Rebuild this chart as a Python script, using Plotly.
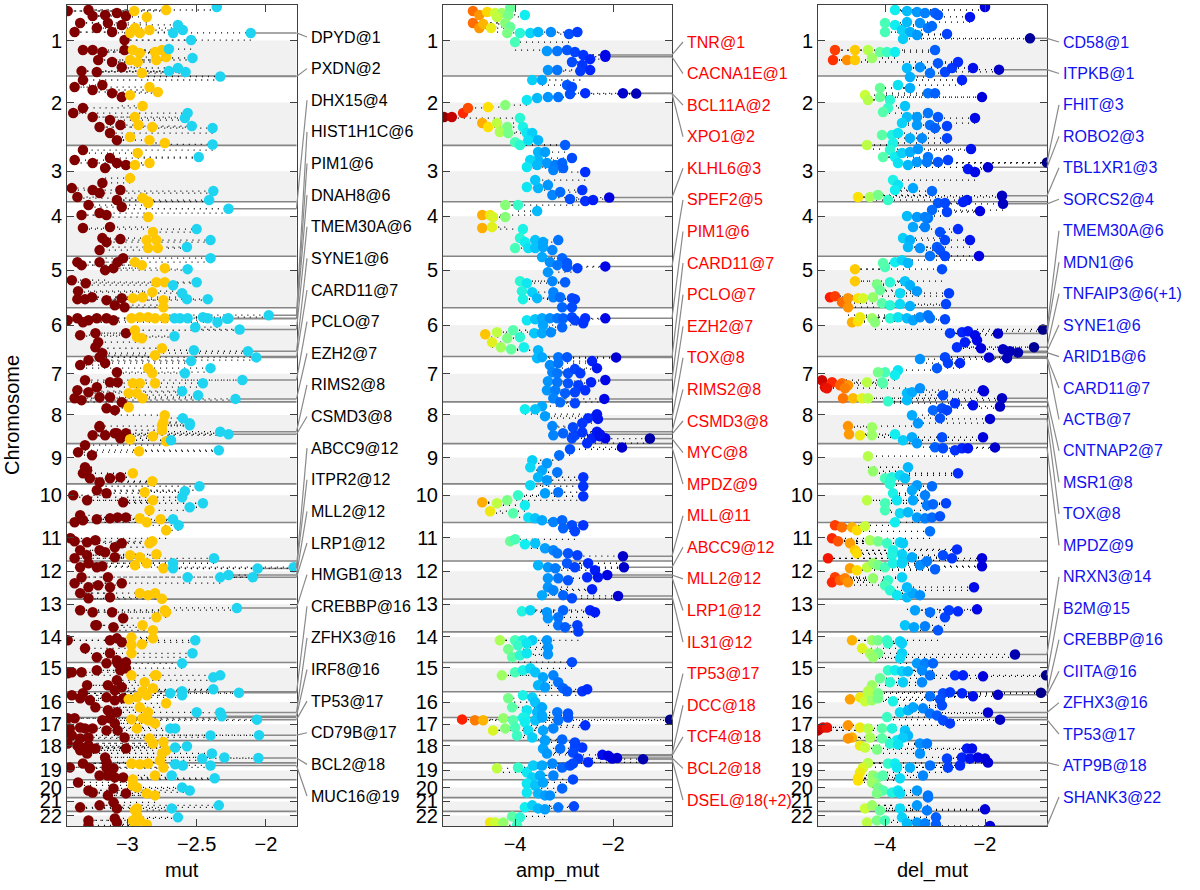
import numpy as np
import plotly.graph_objects as go

# ---------------- genome layout (hg19, Mb) ----------------
chrom_names = [str(i) for i in range(1, 23)]
chrom_len = [249.25, 243.2, 198.0, 191.15, 180.9, 171.1, 159.1, 146.4, 141.2, 135.5, 135.0,
             133.85, 115.2, 107.35, 102.5, 90.35, 81.2, 78.1, 59.1, 63.0, 48.1, 51.3]
centromere = [125.0, 93.3, 91.0, 50.4, 48.4, 61.0, 59.9, 45.6, 49.0, 40.2, 53.7, 35.8,
              17.9, 17.6, 19.0, 36.6, 24.0, 17.2, 26.5, 27.5, 13.2, 14.7]

# ---------------- panel 1: mut (position Mb within chromosome, score) ----------------
mut_pts = [
 [(21,-3.43),(63,-3.34),(95,-3.38),(17.5,-3.28),(38.6,-3.25),(35,-3.16),(63,-3.14),(95,-3.11),(28,-3.075),(70,-3.04),(38.6,-3.01),(123,-3.02),(81,-3.22),(21,-2.95),(42,-2.86),(17.5,-2.72),(98,-2.98),(98,-2.91),(88,-2.84),(81,-2.945),(7,-2.355),(70,-2.635),(88,-2.60),(98,-2.67),(123,-2.54),(158,-3.32),(158,-3.25),(165,-3.18),(193,-3.21),(200,-3.11),(232,-3.33),(235,-3.22),(218,-3.04),(158,-3.02),(158,-2.96),(168.5,-2.91),(193,-2.98),(200,-2.925),(165,-2.80),(158,-2.75),(182.6,-2.72),(193,-2.79),(239,-2.895),(154.5,-2.70),(186,-2.53),(232,-2.70),(221,-2.635),(235,-2.58)],
 [(38.6,-3.38),(14,-3.32),(49,-3.25),(31.6,-3.18),(60,-3.11),(74,-3.04),(130,-3.39),(112,-3.32),(144,-3.25),(154.5,-3.125),(200,-3.125),(225,-3.075),(179,-3.20),(172,-3.05),(67,-2.98),(38.6,-2.84),(56,-2.78),(105,-2.89),(144,-2.945),(172,-2.92),(179,-2.82),(214,-2.98),(225,-2.84),(235,-2.73),(130,-2.565),(147.5,-2.585),(175.5,-2.535),(182.6,-2.385),(240,-2.385)],
 [(51.6,-3.38),(16.5,-3.32),(62,-3.25),(44.6,-3.125),(79.7,-3.16),(62,-3.075),(69,-3.01),(150,-3.40),(181.5,-3.36),(157,-3.25),(132,-3.18),(157,-3.05),(192,-3.075),(167.5,-3.20),(69,-2.945),(62,-2.84),(115,-2.98),(185,-2.89),(197,-2.85),(27,-2.925),(41,-2.485),(160.5,-2.38),(192,-2.41)],
 [(11.6,-3.28),(46.7,-3.33),(39.7,-3.20),(46.7,-3.15),(18.6,-3.04),(92.3,-3.32),(88.8,-3.125),(127.5,-3.18),(141.5,-3.15),(131,-3.05),(169.6,-3.20),(4.6,-2.85),(53.7,-2.85),(106.4,-2.815),(134.5,-2.86),(134.5,-2.79),(162.6,-2.85),(162.6,-2.78),(95.9,-2.50),(134.5,-2.40),(159,-2.57)],
 [(20.7,-3.36),(31.3,-3.33),(20.7,-3.20),(48.8,-3.16),(41.8,-3.10),(20.7,-3.07),(6.7,-3.03),(84,-3.40),(94.5,-3.30),(122.5,-3.355),(150.6,-3.36),(150.6,-3.305),(143.6,-3.255),(154,-3.15),(171.7,-3.09),(178.7,-3.02),(147,-3.04),(20.7,-2.945),(31.3,-2.895),(41.8,-2.73),(91,-2.79),(91,-2.73),(126,-2.82),(143.6,-2.89),(147,-2.96),(154,-2.74),(178.7,-2.74),(6.7,-2.40),(45.3,-2.565),(91,-2.50),(101.5,-2.67),(129.6,-2.605),(150.6,-2.57),(150.6,-2.42)],
 [(43.5,-3.43),(36.5,-3.36),(50.6,-3.32),(43.5,-3.28),(36.5,-3.22),(36.5,-3.15),(43.5,-3.10),(96,-3.34),(89,-3.23),(120.8,-3.21),(138.3,-3.23),(159.4,-3.18),(89,-3.01),(36.5,-2.97),(33,-2.91),(33,-2.85),(36.5,-2.80),(36.5,-2.73),(78.7,-2.945),(103,-2.93),(106.7,-2.895),(141.9,-2.75),(166.4,-2.80),(36.5,-2.66),(36.5,-2.62),(36.5,-2.565),(33,-2.455),(36.5,-2.42),(50.6,-2.35),(68,-2.51),(99.7,-2.66),(149,-2.52)],
 [(30,-3.34),(12.6,-3.28),(2,-3.20),(23,-3.16),(54.8,-3.075),(82.9,-3.305),(107.4,-3.22),(118,-3.36),(125,-3.28),(142.5,-3.20),(89.9,-3.125),(89.9,-3.07),(142.5,-3.125),(146,-3.38),(153,-3.33),(40.7,-2.85),(58.3,-2.82),(93.4,-2.96),(93.4,-2.91),(93.4,-2.80),(128.4,-2.93),(128.4,-2.99),(146,-2.89),(16,-2.54),(40.7,-2.40),(58.3,-2.585),(93.4,-2.455),(121.5,-2.605),(135.5,-2.49)],
 [(22,-3.15),(29,-3.09),(1,-3.04),(88.8,-3.20),(110,-3.075),(110,-3.01),(117,-3.16),(117,-3.25),(110,-3.09),(127.5,-3.05),(85,-3.20),(18.6,-2.99),(46.7,-2.73),(71.3,-2.74),(99.4,-2.75),(81.8,-2.75),(131,-2.98),(120.4,-2.815),(138,-2.72),(57,-2.60),(74.8,-2.55),(81.8,-2.55),(134.5,-2.685)],
 [(5.6,-3.305),(30,-3.355),(40.7,-3.255),(83,-3.305),(104,-3.32),(121.5,-3.27),(135.5,-3.20),(121.5,-3.125),(118,-3.05),(93.4,-3.29),(26.7,-2.915),(104,-2.96),(132,-2.82),(23,-2.34)],
 [(40,-3.39),(57.6,-3.29),(22.5,-3.22),(33,-3.15),(64.6,-3.03),(110.4,-3.34),(134.8,-3.38),(127.8,-3.32),(124.4,-3.22),(121,-3.125),(117.6,-3.07),(117.6,-3.01),(29.5,-2.875),(57.6,-2.815),(92.7,-2.84),(121,-2.91),(134.8,-2.86),(124.4,-2.76),(8.4,-2.48),(26,-2.585),(47,-2.605),(68,-2.455),(82,-2.55),(124.4,-2.67)],
 [(55.5,-3.41),(66,-3.38),(69.5,-3.29),(62.5,-3.23),(97.6,-3.34),(115,-3.29),(125.7,-3.38),(97.6,-3.20),(104.6,-3.16),(87,-3.09),(73,-3.04),(122,-3.09),(27.4,-2.72),(66,-2.82),(73,-2.84),(115,-2.98),(122,-2.91),(111.7,-2.79),(10,-2.63),(125.7,-2.375)],
 [(22,-3.34),(8,-3.28),(22,-3.22),(18.6,-3.18),(57,-3.14),(85,-3.21),(92,-3.28),(78,-3.38),(57,-3.33),(78,-3.04),(92,-3.125),(113,-3.34),(131,-3.28),(127.5,-3.125),(15,-2.945),(8,-2.86),(25.6,-2.74),(113,-2.91),(120,-2.85),(113,-2.80),(133,-2.75),(8,-2.67),(25.6,-2.67),(57,-2.565),(57,-2.095)],
 [(39,-3.34),(46,-3.25),(46,-3.11),(67,-3.03),(92,-3.23),(99,-3.10),(92,-3.22),(39,-2.73),(46,-2.72),(64,-2.79),(92,-2.89),(109.5,-2.815)],
 [(29.5,-3.43),(57.6,-3.305),(29.5,-3.125),(22.5,-3.075),(36.5,-3.04),(89,-3.22),(75,-3.125),(99.7,-3.075),(106,-3.01),(19,-2.97),(47,-2.97),(43.5,-2.895),(22.5,-2.815),(75,-2.97),(29.5,-2.51),(75,-2.53)],
 [(38,-3.43),(34.4,-3.40),(34.4,-3.33),(27.4,-3.22),(3,-3.15),(3,-3.07),(27.4,-3.05),(80,-3.29),(62.5,-3.075),(80,-3.14),(97.5,-3.09),(87,-3.04),(20,-3.01),(45,-2.97),(45,-2.80),(45,-2.79),(69.5,-2.875),(90.4,-2.815),(101,-2.89),(3,-2.605),(52,-2.38),(45,-2.33),(94,-2.38),(101,-2.605)],
 [(12.6,-3.40),(5.6,-3.32),(30,-3.27),(23,-3.34),(54.8,-3.23),(19.7,-3.15),(30,-3.09),(23,-3.03),(65,-3.14),(72.3,-3.075),(26.7,-2.99),(19.7,-2.93),(12.6,-2.86),(54.8,-2.91),(72.3,-2.85),(40.7,-2.72),(5.6,-2.69),(12.6,-2.605),(72.3,-2.50)],
 [(3,-3.43),(3,-3.38),(38.3,-3.415),(35,-3.34),(38.3,-3.305),(38.3,-3.25),(10,-3.18),(3,-3.125),(20.7,-3.09),(45.3,-3.15),(45.3,-3.07),(70,-3.02),(62.9,-3.40),(73.4,-3.34),(70,-3.28),(6.7,-2.97),(3,-2.89),(10,-2.85),(20.7,-2.80),(38.3,-2.93),(73.4,-2.84),(38.3,-2.69),(38.3,-2.655),(62.9,-2.40)],
 [(10,-3.43),(17,-3.36),(24,-3.33),(17,-3.28),(34,-3.34),(45,-3.29),(27.4,-3.23),(27.4,-3.01),(59,-3.16),(76,-3.15),(10,-2.815),(45,-2.75),(34,-2.72),(69.5,-2.765),(5,-2.74),(24,-2.655),(20,-2.57),(62.5,-2.46),(45,-2.39),(59,-2.30)],
 [(16,-3.415),(2,-3.32),(19,-3.27),(16,-3.15),(19,-3.10),(44,-3.20),(44,-3.14),(51,-3.09),(51,-3.03),(2,-2.97),(5,-2.91),(2,-2.85),(16,-2.74),(44,-2.80),(58,-2.96),(5,-2.655),(9,-2.60),(54,-2.37),(44,-2.68)],
 [(9.5,-3.355),(37.6,-3.28),(44.6,-3.25),(30.5,-3.10),(55,-3.14),(48,-3.01),(27,-2.93),(48,-2.86),(55,-2.80),(20,-2.96),(27,-2.605),(37.6,-2.55)],
 [(34,-3.34),(27,-3.20),(37.6,-3.075),(16.5,-3.10),(37.6,-2.93),(44,-2.945),(37.6,-2.68),(27,-2.34)],
 [(31.6,-3.28),(49,-3.28),(24.6,-3.09),(38.6,-3.075),(14,-2.93),(31.6,-2.96),(31.6,-2.91),(45.6,-2.86),(45.6,-2.945),(21,-2.635)],
]
mut_labels = [("DPYD@1",1,98,-2.11),("PXDN@2",2,1.6,-2.33),("DHX15@4",4,24.5,-2.27),("HIST1H1C@6",6,26,-1.98),
 ("PIM1@6",6,37.1,-2.27),("DNAH8@6",6,38.7,-2.28),("TMEM30A@6",6,76,-2.19),("SYNE1@6",6,152.5,-2.13),
 ("CARD11@7",7,2.9,-2.07),("PCLO@7",7,82.5,-2.17),("EZH2@7",7,148.5,-2.22),("RIMS2@8",8,104.5,-2.33),
 ("CSMD3@8",8,113.5,-2.27),("ABCC9@12",12,22,-1.80),("ITPR2@12",12,26.5,-2.06),("MLL2@12",12,49.4,-2.27),
 ("LRP1@12",12,57.5,-2.33),("HMGB1@13",13,31,-2.21),("CREBBP@16",16,3.8,-2.195),("ZFHX3@16",16,73,-2.33),
 ("IRF8@16",16,85.9,-2.32),("TP53@17",17,7.6,-2.065),("CD79B@17",17,62,-2.05),("BCL2@18",18,61,-2.055),
 ("MUC16@19",19,9,-2.40)]

# ---------------- panel 2: amp_mut ----------------
amp_pts = [
 [(21,-4.86),(35,-4.73),(24.6,-4.57),(28,-4.41),(28,-4.27),(10.5,-4.10),(35,-4.14),(63,-4.86),(81,-4.73),(66.7,-4.65),(81,-4.49),(42,-4.37),(63,-4.20),(77,-4.10),(35,-3.80),(98,-4.16),(98,-3.90),(98,-3.69),(95,-3.53),(95,-3.27),(102,-2.90),(95,-2.73),(130,-4.0),(161.5,-3.35),(161.5,-3.14),(158,-2.94),(165,-2.78),(175.5,-2.61),(190,-2.47),(200,-2.84),(210.7,-2.63),(228,-2.47),(232,-2.67),(228,-3.33),(228,-3.14)],
 [(14,-3.65),(14,-3.45),(84,-3.76),(77,-3.55),(74,-3.33),(74,-3.12),(63,-2.88),(60,-2.57),(31.6,-2.94),(38.6,-2.84),(144,-5.45),(144,-5.29),(130,-5.06),(112,-4.96),(109,-4.55),(102,-4.20),(165,-4.67),(179,-4.55),(165,-4.37),(179,-4.16),(196.6,-4.31),(200,-4.14),(147.5,-3.90),(179,-3.84),(200,-3.76),(232,-4.0),(242,-3.90),(200,-3.65),(225,-3.73),(225,-3.53),(242,-2.98)],
 [(23.5,-3.53),(23.5,-3.39),(51.6,-3.53),(51.6,-3.69),(76,-3.76),(69,-3.55),(62,-3.35),(69,-3.18),(62,-3.04),(44.6,-2.84),(86.7,-3.22),(79.7,-3.02),(93.8,-2.57),(146.4,-3.76),(150,-3.53),(139.4,-3.33),(174.5,-3.24),(164,-3.08),(188.5,-2.88),(157,-2.63),(195.6,-2.57),(192,-2.41),(121.8,-3.59)],
 [(46.7,-4.67),(46.7,-4.51),(53.7,-4.45),(53.7,-4.20),(11.6,-4.20),(11.6,-3.94),(32.7,-3.55),(92.3,-4.67),(88.8,-4.47),(95.9,-3.84),(127.5,-3.90),(141.5,-3.80),(134.5,-3.59),(141.5,-3.43),(134.5,-3.12),(162.6,-4.0),(162.6,-3.73),(162.6,-3.59),(159,-3.43),(169.6,-3.24)],
 [(3,-3.45),(20.7,-3.29),(6.7,-3.04),(24,-2.94),(55.8,-3.33),(31.3,-3.14),(38,-2.94),(41.8,-2.73),(87.4,-3.90),(94.5,-3.76),(87.4,-3.24),(91,-2.98),(122.5,-3.86),(126,-3.65),(150.6,-3.84),(147,-3.55),(126,-3.22),(143.6,-3.22),(143.6,-3.08),(147,-2.84),(150.6,-2.78),(178.7,-3.04),(178.7,-2.84)],
 [(43.5,-3.76),(40,-3.59),(36.5,-3.45),(36.5,-3.29),(36.5,-3.14),(36.5,-3.02),(33,-2.84),(43.5,-2.78),(36.5,-2.57),(54,-2.61),(61,-3.43),(68,-3.04),(92.7,-4.61),(85.7,-4.37),(106.7,-4.16),(78.7,-4.04),(120.8,-4.47),(138.3,-4.29),(145.4,-4.08),(138.3,-3.82),(103,-3.90),(89,-3.61),(89,-3.45),(85.7,-3.27),(149,-3.53)],
 [(5.6,-3.55),(2,-3.45),(2,-3.12),(2,-2.94),(16,-2.43),(30,-3.29),(23,-3.12),(54.8,-3.24),(58.3,-3.14),(58.3,-2.92),(44,-2.78),(58.3,-2.67),(40.7,-2.33),(86.4,-3.33),(90,-3.14),(93.4,-2.92),(100.4,-2.71),(90,-2.45),(118,-3.35),(118,-3.18),(128.4,-2.98),(125,-2.78),(118,-2.57),(146,-3.22)],
 [(1,-3.08),(4.6,-2.78),(15,-3.45),(25.6,-3.59),(25.6,-3.80),(50,-3.39),(57,-2.51),(43,-2.33),(74.8,-2.63),(85,-3.24),(88.8,-2.82),(117,-3.22),(110,-3.02),(127.5,-2.84),(117,-2.78),(106.4,-2.63),(127.5,-2.43),(120.4,-2.27),(127.5,-2.16),(145,-2.53)],
 [(19.7,-2.88),(40.7,-3.10),(58.3,-3.65),(83,-3.69),(93.4,-3.45),(69,-3.35),(118,-3.53),(128.5,-3.35),(100.4,-3.14),(118,-2.61)],
 [(8.4,-2.61),(43.5,-2.61),(29.5,-3.12),(33,-3.39),(5,-3.69),(40,-3.94),(57.6,-4.16),(68,-4.37),(64.6,-4.67),(96,-4.51),(103,-4.04),(75,-3.80),(117.6,-3.73),(121,-3.59),(127.8,-3.45),(134,-3.22),(127.8,-3.04)],
 [(10,-2.84),(10,-2.61),(20.4,-3.02),(31,-2.78),(66,-4.10),(59,-4.0),(76.5,-3.80),(73,-3.59),(90.6,-3.39),(97.6,-3.22),(108,-3.14),(108,-2.92),(115,-2.73)],
 [(15,-3.53),(22,-3.33),(25.6,-3.18),(8,-2.94),(22,-2.78),(8,-2.51),(32.7,-2.37),(60.7,-3.33),(60.7,-3.12),(67.8,-2.92),(57,-2.53),(92,-3.33),(103,-3.22),(120,-3.45),(120,-3.02),(131,-2.84),(99.4,-2.43)],
 [(43,-3.86),(39,-3.69),(46,-3.35),(39,-3.02),(39,-2.47),(46,-2.37),(67,-3.33),(64,-3.12),(92,-3.12),(99,-2.98),(92,-2.73),(114,-2.71)],
 [(29.5,-4.31),(29.5,-4.0),(29.5,-3.84),(29.5,-3.65),(29.5,-3.35),(61,-4.14),(47,-3.94),(40,-3.76),(54,-3.33),(89,-4.06),(82,-3.90),(75,-3.76),(78.6,-3.33),(106,-2.84)],
 [(45,-4.27),(34.4,-4.0),(27.4,-3.84),(20.4,-3.69),(34.4,-3.59),(52,-3.43),(45,-3.22),(80,-3.53),(87,-3.39),(69.5,-3.12),(90.4,-3.02),(101,-2.94),(101,-2.63),(94,-2.53)],
 [(12.6,-3.84),(19.7,-3.65),(23,-4.14),(37,-3.59),(54.8,-4.06),(65,-3.76),(72.3,-3.55),(54.8,-3.45),(83,-3.45),(72.3,-3.14),(76,-2.92),(89,-3.80)],
 [(6.7,-5.08),(10,-4.82),(10,-4.65),(3,-4.24),(10,-4.04),(0.5,-3.84),(17,-3.80),(10,-3.59),(0.5,-3.45),(10,-3.12),(0.5,-2.92),(45.3,-4.45),(38.3,-4.20),(35,-4.0),(63,-3.96),(45.3,-3.73),(70,-3.65),(45.3,-3.43),(38.3,-3.22),(27.7,-2.57),(80,-3.39),(77,-3.04)],
 [(0.5,-3.39),(6.3,-2.78),(24,-2.63),(24,-2.78),(27.4,-3.08),(27.4,-3.43),(45,-3.35),(41.4,-2.82),(62.5,-2.71),(76,-2.51),(62.5,-2.02)],
 [(19,-4.37),(16,-3.94),(33,-3.76),(9,-3.63),(51,-3.65),(9,-3.45),(2,-3.24),(16,-3.04),(9,-2.88),(2,-2.82),(44,-3.22),(58,-2.82),(44,-3.49)],
 [(13,-3.76),(20,-3.59),(9.5,-3.43),(30.5,-3.04),(44.6,-3.76),(48,-3.53),(55,-3.39),(55,-3.29)],
 [(34,-3.80),(27,-3.65),(37.6,-3.53),(41,-3.39),(34,-3.12),(30.5,-2.80)],
 [(38.6,-4.51),(38.6,-4.41),(38.6,-4.24),(17.6,-4.06),(21,-3.90),(49,-3.96)],
]
amp_labels = [("TNR@1",1,175.3,-2.16),("CACNA1E@1",1,181.5,-2.16),("BCL11A@2",2,60.7,-1.80),("XPO1@2",2,61.7,-1.53),
 ("KLHL6@3",3,183.2,-2.08),("SPEF2@5",5,35.6,-2.16),("PIM1@6",6,37.1,-2.16),("CARD11@7",7,2.9,-1.94),
 ("PCLO@7",7,82.5,-2.16),("EZH2@7",7,148.5,-2.18),("TOX@8",8,59.7,-2.31),("RIMS2@8",8,104.5,-2.33),
 ("CSMD3@8",8,113.5,-2.27),("MYC@8",8,128.7,-1.25),("MPDZ@9",9,13.2,-1.82),("MLL@11",11,118.3,-1.80),
 ("ABCC9@12",12,22,-1.78),("MLL2@12",12,49.4,-2.12),("LRP1@12",12,57.5,-2.31),("IL31@12",12,122.7,-1.90),
 ("TP53@17",17,7.6,-0.84),("DCC@18",18,50,-2.22),("TCF4@18",18,53,-2.10),("BCL2@18",18,61,-1.92),
 ("DSEL@18(+2)",18,65,-1.39)]

# ---------------- panel 3: del_mut ----------------
del_pts = [
 [(17.5,-3.80),(21,-3.56),(24.6,-3.36),(28,-3.20),(28,-3.0),(35,-2.94),(7,-2.0),(42,-2.30),(63,-4.0),(95,-4.0),(70,-3.80),(88,-3.66),(60,-3.56),(95,-3.50),(105,-3.36),(119,-3.64),(63,-3.30),(81,-3.14),(74,-3.06),(102,-2.76),(158,-5.0),(193,-5.04),(193,-4.76),(158,-4.6),(193,-4.6),(158,-4.34),(186,-4.26),(165,-4.10),(165,-3.96),(165,-3.80),(158,-3.0),(221,-3.56),(218,-3.30),(239,-3.10),(204,-2.94),(235,-2.80),(221,-2.66),(200,-2.54),(221,-2.24)],
 [(3.5,-3.50),(14,-2.46),(31.6,-3.74),(42,-3.50),(60,-3.14),(60,-3.0),(74,-2.06),(66.7,-4.40),(84,-4.34),(42,-4.10),(74,-4.10),(84,-3.90),(112,-3.94),(126,-4.04),(105,-3.60),(144,-3.56),(144,-3.36),(130,-3.14),(144,-2.94),(147.5,-2.20),(165,-3.66),(172,-3.36),(172,-3.10),(182.6,-3.0),(175.5,-2.76),(207,-4.06),(207,-3.86),(200,-3.74),(218,-3.50),(218,-3.26),(218,-2.76),(242,-4.36),(235,-3.84)],
 [(16.5,-3.90),(41,-3.80),(41,-4.04),(27,-3.66),(23.5,-3.50),(13,-3.34),(41,-3.14),(51.6,-2.74),(13,-2.28),(58.6,-2.94),(62,-3.74),(69,-3.54),(58.6,-3.36),(58.6,-3.16),(83,-2.34),(93.8,-2.20),(121.8,-3.84),(139.4,-3.74),(157,-3.80),(150,-3.44),(160.5,-3.06),(181.5,-4.54),(181.5,-4.30),(174.5,-4.14),(192,-3.94),(192,-2.36)],
 [(1,-2.44),(4.6,-2.94),(4.6,-2.80),(32.7,-2.10),(29,-3.06),(36,-2.76),(57,-3.14),(50,-3.56),(53.7,-3.36),(53.7,-3.20),(95.9,-2.54),(106.4,-2.90),(88.8,-3.44),(88.8,-3.20),(127.5,-3.64),(134.5,-3.50),(159,-3.54),(162.6,-3.30),(159,-2.96),(169.6,-2.90),(134.5,-2.80),(134.5,-2.30),(190,-3.10),(190,-2.80),(190,-2.12)],
 [(20.7,-3.80),(13.7,-3.66),(24,-3.54),(38,-4.0),(24,-4.04),(45.3,-4.60),(45.3,-2.86),(87.4,-4.60),(98,-4.16),(91,-3.90),(87.4,-3.60),(101.5,-3.50),(119,-4.10),(129.6,-3.70),(122.5,-3.36),(129.6,-2.72),(143.6,-5.10),(140,-5.0),(161,-4.86),(147,-4.74),(147,-4.54),(147,-4.44),(143.6,-4.24),(164.6,-4.06),(171.7,-3.90),(168,-3.70),(175,-3.50),(168,-2.78),(178.7,-4.74)],
 [(50.6,-4.66),(47,-4.54),(33,-4.50),(36.5,-4.26),(50.6,-4.20),(36.5,-3.90),(33,-3.74),(36.5,-3.56),(43.5,-3.44),(33,-3.30),(26,-3.14),(36.5,-3.10),(40,-2.80),(89,-2.70),(85.7,-2.46),(82,-2.34),(96,-2.20),(120.8,-2.40),(113.8,-2.16),(138.3,-2.56),(141.9,-2.08),(145.4,-1.64)],
 [(9,-3.30),(2,-2.80),(40.7,-2.96),(23,-2.74),(23,-2.50),(47.8,-3.74),(65,-3.80),(54.8,-4.0),(54.8,-4.14),(83,-5.26),(107.4,-5.20),(90,-5.06),(93.4,-4.86),(100.4,-4.74),(90,-4.36),(90,-4.06),(111,-5.16),(100.4,-4.90),(111,-4.80),(146,-4.84),(146,-4.64),(146,-4.46),(146,-4.34),(93.4,-4.04),(157,-3.94),(128.4,-3.56),(125,-3.46),(111,-3.30),(153,-3.56),(135.5,-2.84),(118,-2.04),(121.5,-2.02)],
 [(4.6,-2.60),(11.6,-2.24),(29,-3.04),(22,-2.86),(29,-2.76),(57,-2.90),(46.7,-3.46),(74.8,-3.34),(85,-4.74),(88.8,-4.26),(113.4,-4.72),(117,-4.50),(117,-4.26),(113.4,-3.80),(134.5,-3.64),(124,-3.46),(145,-3.36),(124,-2.86),(124,-2.04)],
 [(12.6,-3.0),(16,-2.84),(23,-2.60),(16,-2.46),(16,-2.34),(44,-4.34),(97,-4.24),(83,-3.54),(104,-2.54),(121.5,-4.0),(118,-3.86),(111,-3.70),(121.5,-3.60),(131,-3.90)],
 [(1,-3.90),(5,-3.36),(8.4,-3.06),(33,-3.84),(22.5,-3.46),(40,-3.20),(57.6,-4.36),(68,-4.0),(57.6,-3.76),(57.6,-3.44),(75,-3.16),(71.6,-3.04),(68,-2.78),(92.7,-4.0),(103,-3.70),(99.7,-3.54),(117.6,-3.36),(121,-3.20),(117.6,-3.06),(113.8,-2.90),(134.8,-3.80)],
 [(10,-5.0),(17,-4.86),(17,-4.66),(27.4,-4.56),(13.3,-4.40),(55.5,-5.06),(66,-4.94),(73,-4.70),(97.6,-4.60),(108,-4.56),(125.7,-5.14),(62.5,-4.30),(66,-4.14),(73,-3.96),(69.5,-3.70),(73,-3.64),(97.6,-3.84),(111.7,-3.66),(115,-3.86),(133,-3.64),(122,-3.46),(31,-3.10),(115,-2.84),(125.7,-2.66),(94.4,-2.56),(125.7,-2.06)],
 [(18.6,-2.06),(25.6,-4.70),(32.7,-4.56),(57,-5.0),(74.8,-5.06),(67.8,-4.90),(60.7,-4.80),(74.8,-4.74),(22,-4.36),(8,-4.24),(15,-4.14),(22,-4.0),(8,-3.84),(8,-3.66),(15,-3.30),(1,-3.16),(29,-3.0),(60.7,-4.24),(67.8,-3.94),(85,-4.0),(103,-3.90),(57,-3.66),(120,-3.76),(127.5,-3.56),(113.4,-3.44),(120,-3.30),(92,-3.56),(92,-2.22)],
 [(39,-3.40),(46,-3.10),(64,-2.80),(39,-2.72),(43,-2.54),(36,-2.16),(92,-3.60),(99,-3.42),(95.5,-3.20),(109.5,-2.94)],
 [(29.5,-4.66),(57.6,-4.46),(29.5,-4.26),(29.5,-4.14),(29.5,-3.96),(40,-3.94),(33,-3.70),(40,-3.66),(75,-4.30),(75,-4.14),(89,-4.24),(75,-3.66),(92.7,-3.70)],
 [(3,-3.36),(3,-3.20),(3,-3.04),(27.4,-3.94),(27.4,-3.80),(31,-3.66),(31,-3.54),(27.4,-3.26),(45,-3.10),(45,-2.60),(45,-2.44),(48.5,-2.04),(55.5,-4.10),(69.5,-3.90),(69.5,-3.64),(69.5,-3.26),(80,-4.26),(101,-4.34)],
 [(26.7,-4.70),(19.7,-4.50),(33.7,-4.40),(5.6,-4.34),(30,-4.26),(23,-4.14),(5.6,-4.14),(33.7,-3.84),(16,-3.10),(5.6,-2.84),(2,-2.70),(26.7,-2.90),(47.8,-2.86),(5.6,-2.46),(16,-2.24),(89,-3.96),(72.3,-3.70),(65,-3.54),(54.8,-3.44),(58.3,-3.24),(76,-3.10),(83,-2.96)],
 [(45.3,-5.34),(35,-5.24),(35,-5.16),(27.7,-4.74),(35,-4.50),(38.3,-4.34),(70,-4.66),(73.4,-4.74),(70,-4.30),(38.3,-4.06),(38.3,-3.86),(45.3,-3.60),(63,-3.54),(80,-3.76),(70,-3.64),(73.4,-4.06),(10,-2.84),(20.7,-2.70)],
 [(10,-3.90),(13.3,-3.74),(10,-3.30),(10,-3.16),(27.4,-2.36),(27.4,-2.26),(45,-3.30),(62.5,-2.76),(59,-2.46),(62.5,-2.30),(59,-2.14),(62.5,-2.0),(17,-4.50),(24,-4.40),(31,-4.16)],
 [(0.5,-4.34),(16,-4.44),(33,-4.50),(54,-4.54),(44,-4.24),(51,-4.14),(44,-4.04),(2,-3.94),(2,-3.80),(16,-3.76),(16,-3.50),(9,-3.10),(16,-2.74),(9,-2.50),(44,-3.24),(54,-3.70)],
 [(2.5,-4.54),(9.5,-4.26),(27,-4.14),(37.6,-4.04),(48,-4.16),(44.6,-3.86),(37.6,-3.74),(48,-3.70),(37.6,-3.36),(55,-3.14),(62,-3.14)],
 [(37.6,-4.40),(27,-4.26),(44.6,-4.10),(37.6,-3.70),(27,-3.36),(44.6,-3.16),(41,-2.0)],
 [(38.6,-4.36),(31.6,-4.16),(31.6,-4.0),(21,-3.66),(42,-3.56),(38.6,-3.36),(42,-3.20),(21,-2.98),(45.6,-2.98)],
]
del_labels = [("CD58@1",1,117,-1.10),("ITPKB@1",1,226.8,-1.72),("FHIT@3",3,60.5,-0.76),("ROBO2@3",3,77,-1.94),
 ("TBL1XR1@3",3,176.8,-1.66),("SORCS2@4",4,7.2,-1.64),("TMEM30A@6",6,76,-0.84),("MDN1@6",6,90.4,-1.74),
 ("TNFAIP3@6(+1)",6,138.2,-1.02),("SYNE1@6",6,152.5,-1.50),("ARID1B@6",6,157.1,-1.34),("CARD11@7",7,2.9,-1.92),
 ("ACTB@7",7,5.5,-1.56),("CNTNAP2@7",7,146.5,-1.66),("MSR1@8",8,16,-1.70),("TOX@8",8,59.7,-1.90),
 ("MPDZ@9",9,13.2,-1.80),("NRXN3@14",14,79,-1.40),("B2M@15",15,45,-0.78),("CREBBP@16",16,3.8,-0.88),
 ("CIITA@16",16,11,-1.74),("ZFHX3@16",16,73,-1.94),("TP53@17",17,7.6,-1.70),("ATP9B@18",18,77,-1.94),
 ("SHANK3@22",22,51.1,-1.90)]

# ---------------- styling ----------------
W, H = 1200, 890
FONT = "Liberation Sans, Arial, Helvetica, sans-serif"
PLOT_TOP, PLOT_BOT = 5, 826
jet_stops = [(-5.5,'#7F0000'),(-5.3,'#C00000'),(-5.1,'#FF1A00'),(-4.9,'#FF6000'),(-4.7,'#FFA000'),
             (-4.55,'#FFE000'),(-4.4,'#C8FF38'),(-4.2,'#88FF78'),(-4.0,'#48FFB8'),(-3.8,'#10EEF0'),
             (-3.5,'#00B0FF'),(-3.2,'#0080FF'),(-2.9,'#0050FF'),(-2.5,'#0028FF'),(-2.1,'#0000E0'),
             (-1.5,'#0000B8'),(-0.7,'#000080')]
CMIN, CMAX = jet_stops[0][0], jet_stops[-1][0]
colorscale = [[(v - CMIN) / (CMAX - CMIN), c] for v, c in jet_stops]

offsets = np.concatenate([[0.0], np.cumsum(chrom_len)[:-1]])
total = float(np.sum(chrom_len))
cen_cum = [offsets[i] + centromere[i] for i in range(22)]

def ypaper(py):
    return 1 - py / H

panels = [
    dict(pts=mut_pts, labels=mut_labels, xr=[-3.435, -1.78], px=(67, 296.5), ticks=[-3, -2.5, -2],
         title="mut", lab_color="black", lab_x=309, lab_top=37, lab_bot=796, discrete=True),
    dict(pts=amp_pts, labels=amp_labels, xr=[-5.47, -0.80], px=(443, 672), ticks=[-4, -2],
         title="amp_mut", lab_color="#FF0000", lab_x=685, lab_top=42, lab_bot=800, discrete=False),
    dict(pts=del_pts, labels=del_labels, xr=[-5.34, -0.76], px=(818, 1047), ticks=[-4, -2],
         title="del_mut", lab_color="#1010F0", lab_x=1061, lab_top=42, lab_bot=797, discrete=False),
]

fig = go.Figure()
shapes, annotations = [], []
layout_axes = {}

def mut_color(v):
    if v < -3.0:
        return "#800000"
    if v < -2.71:
        return "#FFC800"
    return "#1ED4F0"

for k, p in enumerate(panels):
    sfx = "" if k == 0 else str(k + 1)
    xref, yref = "x" + sfx, "y" + sfx
    xs, ys = [], []
    for ci, lst in enumerate(p["pts"]):
        for pos, v in lst:
            xs.append(v); ys.append(offsets[ci] + pos)
    lab_pt = []
    for name, c, pos, v in p["labels"]:
        xs.append(v); ys.append(offsets[c - 1] + pos)
        lab_pt.append((name, v, offsets[c - 1] + pos))
    xs = np.array(xs); ys = np.array(ys)
    order = np.argsort(ys, kind="stable")

    # dotted connectors between genomically consecutive peaks
    sx, sy = [], []
    for a, b in zip(order[:-1], order[1:]):
        sx += [xs[a], xs[b], None]; sy += [ys[b], ys[b], None]
    fig.add_trace(go.Scatter(x=sx, y=sy, mode="lines", xaxis=xref, yaxis=yref,
                             line=dict(color="black", width=1.3, dash="1px,5px"),
                             hoverinfo="skip", showlegend=False))
    if p["discrete"]:
        marker = dict(size=10.5, color=[mut_color(v) for v in xs], line=dict(width=0))
    else:
        marker = dict(size=10.5, color=xs, colorscale=colorscale, cmin=CMIN, cmax=CMAX, line=dict(width=0))
    fig.add_trace(go.Scatter(x=xs, y=ys, mode="markers", xaxis=xref, yaxis=yref, marker=marker,
                             hoverinfo="skip", showlegend=False, cliponaxis=True))

    # chromosome bands (q arm shaded) and boundaries
    for i in range(22):
        shapes.append(dict(type="rect", xref=xref + " domain", yref=yref, x0=0, x1=1,
                           y0=cen_cum[i], y1=offsets[i] + chrom_len[i],
                           fillcolor="#F1F1F1", line=dict(width=0), layer="below"))
    for i in range(1, 22):
        shapes.append(dict(type="line", xref=xref + " domain", yref=yref, x0=0, x1=1,
                           y0=offsets[i], y1=offsets[i], line=dict(color="#858585", width=1.6), layer="below"))

    # labels with leader lines
    n = len(lab_pt)
    lab_y = np.linspace((p["lab_top"] - PLOT_TOP), (p["lab_bot"] - PLOT_TOP), n) / (PLOT_BOT - PLOT_TOP) * total
    edge = p["px"][1] / W
    for (name, v, yc), ly in zip(lab_pt, lab_y):
        shapes.append(dict(type="line", xref=xref, yref=yref, x0=v, x1=p["xr"][1], y0=yc, y1=yc,
                           line=dict(color="#8A8A8A", width=1.5), layer="below"))
        shapes.append(dict(type="line", xref="paper", yref=yref, x0=edge, x1=(p["lab_x"] - 2) / W,
                           y0=yc, y1=ly, line=dict(color="#8A8A8A", width=1.2)))
        annotations.append(dict(x=p["lab_x"] / W, xref="paper", y=ly, yref=yref, text=name,
                                showarrow=False, xanchor="left", yanchor="middle",
                                font=dict(size=16, color=p["lab_color"], family=FONT)))

    dom = [p["px"][0] / W, p["px"][1] / W]
    layout_axes["xaxis" + sfx] = dict(domain=dom, range=p["xr"], anchor=yref, showline=True,
                                      linecolor="#404040", linewidth=1, mirror="ticks", ticks="inside",
                                      ticklen=7, tickcolor="#404040", tickvals=p["ticks"],
                                      tickfont=dict(size=20, family=FONT, color="black"),
                                      showgrid=False, zeroline=False)
    layout_axes["yaxis" + sfx] = dict(domain=[ypaper(PLOT_BOT), ypaper(PLOT_TOP)], range=[total, 0],
                                      anchor=xref, showline=True, linecolor="#404040", linewidth=1,
                                      mirror="ticks", ticks="inside", ticklen=7, tickcolor="#404040",
                                      tickvals=cen_cum, ticktext=chrom_names,
                                      tickfont=dict(size=20, family=FONT, color="black"),
                                      showgrid=False, zeroline=False)
    annotations.append(dict(x=(p["px"][0] + p["px"][1]) / 2 / W, xref="paper", y=ypaper(870), yref="paper",
                            text=p["title"], showarrow=False, xanchor="center", yanchor="middle",
                            font=dict(size=20, family=FONT, color="black")))

annotations.append(dict(x=12 / W, xref="paper", y=ypaper(415), yref="paper", text="Chromosome",
                        textangle=-90, showarrow=False, xanchor="center", yanchor="middle",
                        font=dict(size=20, family=FONT, color="black")))

fig.update_layout(width=W, height=H, margin=dict(l=0, r=0, t=0, b=0), paper_bgcolor="white",
                  plot_bgcolor="white", shapes=shapes, annotations=annotations, showlegend=False,
                  font=dict(family=FONT), **layout_axes)
fig.write_html("out.html", config={"displayModeBar": False, "staticPlot": True},
               post_script="document.body.style.margin='0';document.body.style.padding='0';document.body.style.overflow='hidden';")
